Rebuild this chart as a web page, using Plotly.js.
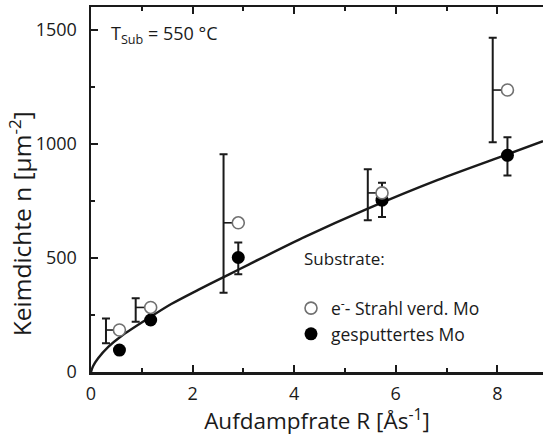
<!DOCTYPE html>
<html>
<head>
<meta charset="utf-8">
<script src="https://cdn.plot.ly/plotly-3.0.1.min.js"></script>
<style>
  html, body { margin: 0; padding: 0; background: #ffffff; }
  #chart { width: 543px; height: 436px; }
</style>
</head>
<body>
<div id="chart"></div>
<script>
// Nucleation density vs. deposition rate, T_Sub = 550 °C

// e-beam evaporated Mo substrates (open circles)
const ebeamRate = [0.56, 1.175, 2.9, 5.73, 8.2];
const ebeamDensity = [184, 283, 654, 785, 1236];
// their error bars are drawn slightly to the left of each point
const ebeamBarRate = [0.295, 0.88, 2.61, 5.45, 7.91];
const ebeamBarTop = [235, 323, 954, 889, 1465];
const ebeamBarBottom = [126, 220, 347, 665, 1007];

// sputtered Mo substrates (filled circles)
const sputRate = [0.56, 1.175, 2.9, 5.73, 8.2];
const sputDensity = [96, 228, 502, 753, 950];
const sputErrTop = [96, 228, 568, 830, 1029];
const sputErrBottom = [96, 228, 429, 680, 861];

// fitted curve n(R)
const fitRate = [0, 0.04, 0.14, 0.34, 0.6, 1.16, 1.58, 2.11, 2.63, 2.89, 3.16, 4.21, 5.45, 6.83, 8.21, 8.9];
const fitDensity = [0, 25, 60, 110, 158, 240, 298, 360, 418, 447, 477, 592, 716, 842, 955, 1012];

// tick labels
const xTickVals = [0, 2, 4, 6, 8];
const yTickVals = [0, 500, 1000, 1500];

const FONT = '"Open Sans", "Noto Sans", sans-serif';
const INK = '#1a1a1a';

const fitTrace = {
  x: fitRate, y: fitDensity,
  mode: 'lines', type: 'scatter',
  line: {color: INK, width: 2.4, shape: 'spline', smoothing: 0.8},
  hoverinfo: 'skip', showlegend: false
};

// offset error bars with a short connector to the open circle
const ebeamBars = {
  x: ebeamBarRate, y: ebeamDensity,
  mode: 'markers', type: 'scatter',
  marker: {size: 1, color: 'rgba(0,0,0,0)'},
  error_y: {
    type: 'data', symmetric: false,
    array: ebeamBarTop.map((t, i) => t - ebeamDensity[i]),
    arrayminus: ebeamBarBottom.map((b, i) => ebeamDensity[i] - b),
    color: INK, thickness: 2, width: 4
  },
  error_x: {
    type: 'data', symmetric: false,
    array: ebeamRate.map((r, i) => r - ebeamBarRate[i]),
    arrayminus: ebeamRate.map(() => 0),
    color: INK, thickness: 1.6, width: 0
  },
  hoverinfo: 'skip', showlegend: false
};

const sputTrace = {
  x: sputRate, y: sputDensity,
  mode: 'markers', type: 'scatter',
  name: 'gesputtertes Mo',
  marker: {size: 13, color: '#000000', line: {width: 0}},
  error_y: {
    type: 'data', symmetric: false,
    array: sputErrTop.map((t, i) => t - sputDensity[i]),
    arrayminus: sputErrBottom.map((b, i) => sputDensity[i] - b),
    color: INK, thickness: 2, width: 4
  },
  legendrank: 2
};

const ebeamTrace = {
  x: ebeamRate, y: ebeamDensity,
  mode: 'markers', type: 'scatter',
  name: 'e<sup>-</sup>- Strahl verd. Mo',
  marker: {size: 12, color: '#ffffff', line: {color: '#707070', width: 1.6}},
  legendrank: 1
};

const layout = {
  width: 543, height: 436,
  margin: {l: 91, r: 0, t: 7, b: 64},
  paper_bgcolor: '#ffffff', plot_bgcolor: '#ffffff',
  font: {family: FONT, color: INK, size: 18},
  showlegend: true,
  legend: {
    x: 0.4425, y: 0.224, xanchor: 'left', yanchor: 'top',
    bgcolor: 'rgba(0,0,0,0)', borderwidth: 0,
    font: {family: FONT, size: 17.5, color: INK},
    itemwidth: 30, traceorder: 'normal'
  },
  xaxis: {
    range: [0, 8.9],
    tickmode: 'array', tickvals: xTickVals,
    ticks: 'inside', ticklen: 7, tickwidth: 2, tickcolor: INK,
    minor: {dtick: 1, ticks: 'inside', ticklen: 4, tickwidth: 2, tickcolor: INK},
    showline: true, linecolor: INK, linewidth: 2.5, mirror: 'ticks',
    showgrid: false, zeroline: false,
    tickfont: {family: FONT, size: 18, color: INK},
    ticklabelstandoff: 4,
    title: {text: 'Aufdampfrate R [Ås<sup>-1</sup>]', font: {family: FONT, size: 22.5, color: INK}, standoff: 6}
  },
  yaxis: {
    range: [0, 1600],
    tickmode: 'array', tickvals: yTickVals,
    ticks: 'inside', ticklen: 7, tickwidth: 2, tickcolor: INK,
    minor: {dtick: 250, ticks: 'inside', ticklen: 4, tickwidth: 2, tickcolor: INK},
    showline: true, linecolor: INK, linewidth: 2.5, mirror: false,
    showgrid: false, zeroline: false,
    tickfont: {family: FONT, size: 18, color: INK},
    ticklabelstandoff: 8
  },
  annotations: [
    {
      text: 'Keimdichte n [µm<sup>-2</sup>]',
      xref: 'paper', yref: 'paper', x: -0.157, y: 0.405,
      xanchor: 'center', yanchor: 'middle', textangle: -90, showarrow: false,
      font: {family: FONT, size: 24.5, color: INK}
    },
    {
      text: 'T<sub>Sub</sub> = 550 °C',
      xref: 'paper', yref: 'paper', x: 0.04, y: 0.925,
      xanchor: 'left', yanchor: 'middle', showarrow: false,
      font: {family: FONT, size: 18, color: INK}
    },
    {
      text: 'Substrate:',
      xref: 'paper', yref: 'paper', x: 0.466, y: 0.31,
      xanchor: 'left', yanchor: 'middle', showarrow: false,
      font: {family: FONT, size: 17, color: INK}
    }
  ]
};

Plotly.newPlot('chart', [fitTrace, ebeamBars, sputTrace, ebeamTrace], layout, {displayModeBar: false, staticPlot: true});
</script>
</body>
</html>
